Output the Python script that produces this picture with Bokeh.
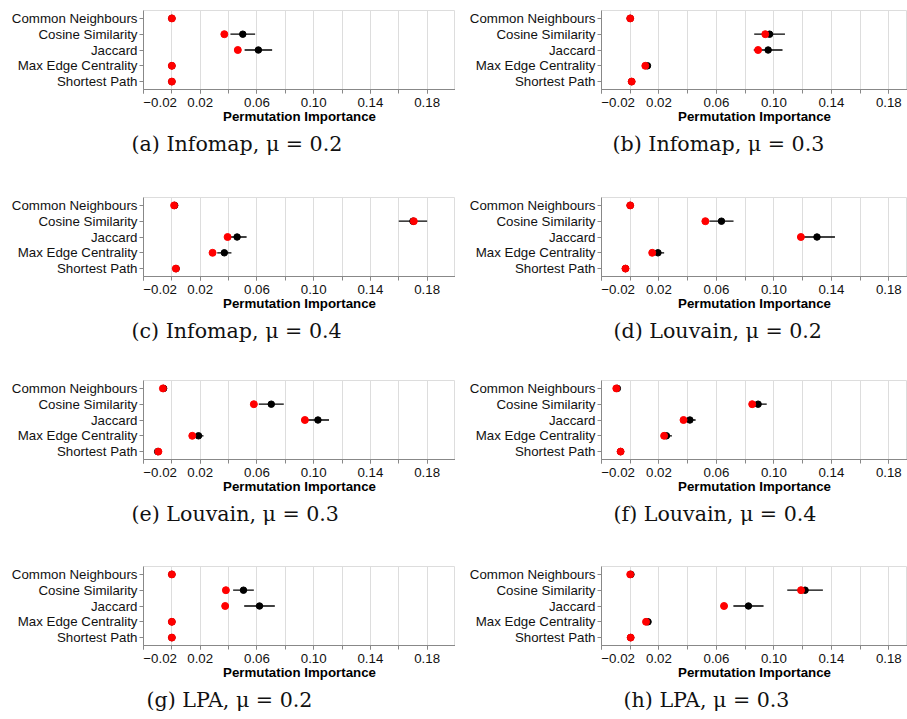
from bokeh.plotting import figure
from bokeh.layouts import gridplot
from bokeh.models import FactorRange, Range1d, FixedTicker, Title
from bokeh.embed import file_html
from bokeh.resources import INLINE

# ---------------- data ----------------
features = ["Common Neighbours", "Cosine Similarity", "Jaccard",
            "Max Edge Centrality", "Shortest Path"]

x_ticks = [-0.02, 0.02, 0.06, 0.10, 0.14, 0.18]
x_tick_labels = ["\u22120.02", "0.02", "0.06", "0.10", "0.14", "0.18"]
x_minor_ticks = [-0.02, 0.0, 0.02, 0.04, 0.06, 0.08, 0.10, 0.12, 0.14, 0.16, 0.18, 0.20]
x_axis_title = "Permutation Importance"

captions = ["(a) Infomap, \u03bc = 0.2", "(b) Infomap, \u03bc = 0.3",
            "(c) Infomap, \u03bc = 0.4", "(d) Louvain, \u03bc = 0.2",
            "(e) Louvain, \u03bc = 0.3", "(f) Louvain, \u03bc = 0.4",
            "(g) LPA, \u03bc = 0.2", "(h) LPA, \u03bc = 0.3"]

# black point = mean importance, whisker = +/- std, red point = second estimate
mean_a = [0.0, 0.050, 0.061, 0.0, 0.0]
std_a = [0.0005, 0.0087, 0.0097, 0.0005, 0.0005]
red_a = [0.0, 0.037, 0.0465, 0.0, 0.0]

mean_b = [0.0, 0.097, 0.096, 0.012, 0.001]
std_b = [0.0005, 0.0107, 0.010, 0.001, 0.0005]
red_b = [0.0, 0.094, 0.089, 0.0105, 0.001]

mean_c = [0.002, 0.170, 0.046, 0.037, 0.003]
std_c = [0.0005, 0.010, 0.0067, 0.005, 0.0005]
red_c = [0.0016, 0.1706, 0.0393, 0.0287, 0.0028]

mean_d = [0.0, 0.0635, 0.130, 0.0193, -0.0033]
std_d = [0.0005, 0.0084, 0.0125, 0.0043, 0.0005]
red_d = [0.0, 0.0523, 0.1188, 0.0153, -0.0033]

mean_e = [-0.0058, 0.0701, 0.103, 0.0188, -0.010]
std_e = [0.0005, 0.0088, 0.0078, 0.0035, 0.0005]
red_e = [-0.0063, 0.0578, 0.0938, 0.0144, -0.0095]

mean_f = [-0.009, 0.089, 0.0415, 0.0252, -0.0067]
std_f = [0.0005, 0.006, 0.004, 0.0038, 0.0005]
red_f = [-0.0097, 0.0849, 0.0371, 0.0236, -0.0067]

mean_g = [0.0, 0.0505, 0.0618, 0.0, 0.0]
std_g = [0.0005, 0.0073, 0.0108, 0.0005, 0.0005]
red_g = [0.0, 0.0381, 0.0376, 0.0, 0.0]

mean_h = [0.0005, 0.1217, 0.0823, 0.0124, 0.0003]
std_h = [0.0005, 0.0124, 0.0105, 0.002, 0.0005]
red_h = [0.0, 0.1189, 0.0653, 0.011, 0.0003]

panels = [(captions[0], mean_a, std_a, red_a), (captions[1], mean_b, std_b, red_b),
          (captions[2], mean_c, std_c, red_c), (captions[3], mean_d, std_d, red_d),
          (captions[4], mean_e, std_e, red_e), (captions[5], mean_f, std_f, red_f),
          (captions[6], mean_g, std_g, red_g), (captions[7], mean_h, std_h, red_h)]

# ---------------- layout / style ----------------
ROW_H = [187, 184, 186, 162]
TOP = [10, 10, 9, 9]
FRAME_H = 79
COL_W = [455, 452]
LEFT = [143, 146]
X_END = [0.20, 0.193]
CAP_OFFSET = [-12, 11, -12, 12, -12, 12, 3, 22]
SANS = "Liberation Sans"
SERIF = "DejaVu Serif"
GRAY = "#888888"
GRID = "#dddddd"
FLUSH_PAD = "\u00a0" * 9   # shifts the first tick label so it starts at the axis edge


def make_panel(i, caption, mean, std, red):
    r, c = divmod(i, 2)
    p = figure(width=COL_W[c], height=ROW_H[r],
               x_range=Range1d(-0.02, X_END[c]),
               y_range=FactorRange(factors=list(reversed(features))),
               output_backend="svg", toolbar_location=None,
               min_border_left=LEFT[c], min_border_right=0,
               min_border_top=TOP[r],
               min_border_bottom=ROW_H[r] - TOP[r] - FRAME_H,
               background_fill_color="white", border_fill_color="white",
               outline_line_color=GRID)

    lo = [m - s for m, s in zip(mean, std)]
    hi = [m + s for m, s in zip(mean, std)]
    p.segment(x0=lo, x1=hi, y0=features, y1=features, line_color="black", line_width=1.3)
    p.scatter(x=mean, y=features, size=6.5, fill_color="black", line_color="black")
    p.scatter(x=red, y=features, size=7, fill_color="#ff0000", line_color="#ff0000")

    # x axis
    xa = p.xaxis[0]
    xa.ticker = FixedTicker(ticks=x_ticks, minor_ticks=x_minor_ticks)
    overrides = dict(zip(x_ticks, x_tick_labels))
    overrides[x_ticks[0]] = FLUSH_PAD + x_tick_labels[0]
    xa.major_label_overrides = overrides
    xa.axis_line_color = GRAY
    xa.major_tick_line_color = GRAY
    xa.minor_tick_line_color = GRAY
    xa.major_tick_out = 4
    xa.major_tick_in = 0
    xa.minor_tick_out = 4
    xa.minor_tick_in = 0
    xa.major_label_standoff = 1
    xa.major_label_text_font = SANS
    xa.major_label_text_font_size = "13.3px"
    xa.major_label_text_color = "#111111"
    xa.axis_label = x_axis_title
    xa.axis_label_text_font = SANS
    xa.axis_label_text_font_size = "13.3px"
    xa.axis_label_text_font_style = "bold"
    xa.axis_label_text_color = "#000000"
    xa.axis_label_standoff = -4

    # y axis
    ya = p.yaxis[0]
    ya.axis_line_color = GRAY
    ya.major_tick_line_color = GRAY
    ya.major_tick_out = 4
    ya.major_tick_in = 0
    ya.major_label_standoff = 2
    ya.major_label_text_font = SANS
    ya.major_label_text_font_size = "13.3px"
    ya.major_label_text_color = "#111111"

    p.xgrid.grid_line_color = GRID
    p.xgrid.minor_grid_line_color = GRID
    p.ygrid.grid_line_color = None

    p.add_layout(Title(text=caption, align="left", offset=CAP_OFFSET[i],
                       text_font=SERIF, text_font_size="20.6px",
                       text_font_style="normal", text_color="#111111",
                       standoff=7), "below")
    return p


figs = [make_panel(i, *pn) for i, pn in enumerate(panels)]
grid = gridplot([figs[0:2], figs[2:4], figs[4:6], figs[6:8]], toolbar_location=None)

open("out.html", "w").write(file_html(grid, INLINE))
